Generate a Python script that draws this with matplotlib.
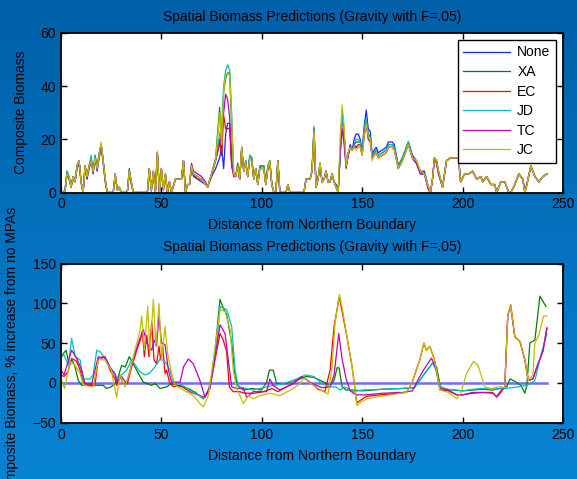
import numpy as np
import matplotlib
matplotlib.use("Agg")
import matplotlib.pyplot as plt

plt.rcParams["font.family"] = ["Liberation Sans", "DejaVu Sans"]
plt.rcParams["font.size"] = 10

names = ["None", "XA", "EC", "JD", "TC", "JC"]
colors = ["#2020ff", "#008000", "#ff0000", "#00bfbf", "#bf00bf", "#bfbf00"]

# distance from northern boundary (top panel samples)
dist = [1, 2, 3, 4, 5, 6, 7, 8, 9, 10,
        11, 12, 13, 14, 15, 16, 17, 18, 19, 20,
        21, 22, 23, 26, 27, 28, 29, 30, 33, 34,
        35, 36, 43, 44, 45, 46, 47, 48, 49, 50,
        51, 52, 53, 54, 55, 57, 58, 60, 61, 62,
        63, 64, 65, 66, 68, 70, 72, 73, 75, 77,
        79, 80, 81, 82, 83, 84, 85, 86, 87, 88,
        89, 90, 91, 92, 93, 94, 95, 96, 97, 98,
        99, 100, 101, 102, 103, 104, 105, 106, 107, 108,
        109, 112, 113, 114, 121, 122, 124, 125, 126, 127,
        128, 129, 130, 131, 132, 133, 134, 135, 136, 137,
        138, 139, 140, 141, 142, 143, 144, 145, 146, 147,
        148, 149, 150, 151, 152, 153, 154, 155, 156, 157,
        158, 160, 162, 163, 165, 166, 168, 170, 173, 175,
        177, 179, 181, 183, 184, 185, 186, 187, 188, 190,
        191, 192, 194, 198, 199, 201, 203, 205, 207, 209,
        210, 212, 214, 216, 217, 219, 221, 223, 224, 226,
        228, 230, 231, 232, 234, 236, 238, 240, 242]

bio_none = [0, 0.5, 7, 5, 2, 5, 4, 9, 11, 4,
            0, 9, 5, 9, 12, 7, 13, 8, 13, 17,
            11, 4, 0, 0, 6, 1, 2, 0, 0, 7,
            3, 0, 0, 8, 1, 7, 0, 14, 0, 8,
            1, 6, 0, 4, 0, 5, 5, 5, 12, 0,
            3, 3, 9, 6, 5, 4, 3, 2, 6, 9,
            13, 17, 9, 22, 26, 26, 12, 7, 6, 10,
            5, 17, 8, 11, 6, 13, 13, 5, 9, 3,
            9, 10, 10, 3, 9, 12, 3, 0, 0, 12,
            0, 0, 3, 0, 0, 5, 5, 8, 24, 2,
            5, 11, 4, 5, 8, 4, 4, 7, 4, 3,
            0, 14, 30, 22, 10, 14, 18, 16, 20, 22,
            22, 20, 16, 25, 31, 24, 23, 14, 16, 17,
            15, 16, 17, 19, 19, 18, 10, 13, 19, 14,
            12, 8, 8, 2, 0, 5, 13, 12, 8, 2,
            7, 12, 13, 13, 4, 7, 7, 8, 5, 6,
            4, 6, 3, 3, 0, 4, 4, 0, 0, 3,
            7, 5, 0, 3, 10, 6, 4, 6, 7]

bio_xa = [0, 1, 8, 6, 2, 6, 5, 10, 12, 4,
          0, 10, 6, 10, 13, 8, 14, 9, 15, 18,
          12, 5, 0, 0, 7, 1, 2, 0, 0, 9,
          4, 0, 0, 9, 1, 8, 0, 15, 0, 9,
          1, 7, 0, 4, 0, 5, 5, 5, 12, 0,
          3, 3, 10, 7, 6, 5, 3, 2, 7, 13,
          32, 14, 38, 43, 45, 45, 25, 7, 6, 11,
          5, 17, 8, 12, 6, 14, 13, 5, 9, 3,
          10, 10, 10, 3, 10, 12, 3, 0, 0, 12,
          0, 0, 3, 0, 0, 5, 5, 8, 24, 2,
          5, 11, 4, 5, 8, 4, 4, 7, 4, 2,
          0, 13, 31, 22, 10, 15, 17, 16, 18, 19,
          19, 19, 15, 23, 28, 22, 21, 13, 15, 16,
          14, 15, 16, 18, 18, 17, 10, 13, 19, 13,
          11, 8, 7, 2, 0, 5, 13, 12, 8, 2,
          7, 12, 13, 13, 4, 7, 7, 8, 5, 6,
          4, 6, 3, 3, 0, 4, 4, 0, 0, 3,
          7, 5, 0, 3, 10, 6, 4, 6, 7]

bio_ec = [0, 0.5, 7, 6, 2, 6, 4, 10, 12, 4,
          0, 10, 6, 10, 12, 8, 13, 9, 14, 18,
          12, 5, 0, 0, 7, 1, 2, 0, 0, 8,
          4, 0, 0, 9, 1, 8, 0, 15, 0, 9,
          1, 7, 0, 4, 0, 5, 5, 5, 12, 0,
          3, 3, 10, 7, 5, 5, 3, 2, 7, 12,
          20, 14, 29, 24, 24, 24, 10, 6, 6, 10,
          5, 17, 8, 11, 6, 13, 12, 5, 9, 3,
          9, 9, 9, 3, 9, 11, 3, 0, 0, 12,
          0, 0, 3, 0, 0, 5, 5, 8, 22, 2,
          5, 11, 4, 5, 8, 4, 4, 7, 4, 2,
          0, 14, 30, 22, 10, 14, 17, 16, 18, 17,
          18, 18, 15, 22, 27, 21, 20, 13, 14, 15,
          13, 14, 15, 17, 17, 16, 9, 12, 18, 13,
          11, 7, 7, 1, 0, 5, 13, 11, 7, 2,
          7, 12, 13, 13, 4, 7, 7, 8, 5, 6,
          4, 6, 3, 3, 0, 4, 4, 0, 0, 3,
          7, 5, 0, 3, 10, 6, 4, 6, 7]

bio_jd = [0, 1, 8, 6, 2, 6, 5, 10, 12, 4,
          0, 10, 6, 10, 14, 8, 14, 9, 14, 18,
          12, 5, 0, 0, 7, 1, 2, 0, 0, 8,
          4, 0, 0, 9, 0, 8, 0, 15, 0, 8,
          1, 7, 0, 4, 0, 5, 5, 5, 12, 0,
          3, 3, 10, 7, 6, 5, 3, 2, 7, 12,
          22, 25, 40, 46, 48, 46, 30, 7, 6, 10,
          5, 17, 8, 12, 6, 14, 13, 5, 9, 3,
          10, 10, 10, 3, 10, 12, 3, 0, 0, 12,
          0, 0, 3, 0, 0, 5, 5, 8, 25, 2,
          5, 11, 4, 5, 8, 4, 4, 7, 4, 2,
          0, 13, 30, 22, 10, 14, 17, 16, 18, 20,
          20, 19, 15, 24, 28, 22, 21, 13, 15, 16,
          14, 15, 16, 18, 18, 17, 10, 13, 19, 13,
          11, 7, 7, 2, 0, 5, 13, 12, 8, 2,
          7, 12, 13, 13, 4, 7, 7, 8, 5, 6,
          4, 6, 3, 3, 0, 4, 4, 0, 0, 3,
          7, 5, 0, 3, 10, 6, 4, 6, 7]

bio_tc = [0, 0.5, 7, 6, 2, 6, 4, 10, 12, 4,
          0, 10, 6, 10, 12, 8, 13, 9, 14, 18,
          12, 5, 0, 0, 7, 1, 2, 0, 0, 8,
          4, 0, 0, 9, 1, 8, 0, 15, 0, 9,
          1, 7, 0, 4, 0, 5, 5, 5, 12, 0,
          3, 3, 11, 8, 7, 6, 4, 2, 7, 12,
          18, 22, 30, 37, 35, 28, 10, 7, 6, 10,
          5, 16, 8, 11, 6, 13, 12, 5, 9, 3,
          9, 9, 9, 3, 9, 11, 3, 0, 0, 12,
          0, 0, 3, 0, 0, 5, 5, 8, 23, 2,
          5, 10, 4, 5, 8, 4, 4, 7, 4, 2,
          0, 15, 24, 18, 9, 14, 17, 16, 17, 17,
          17, 17, 14, 21, 26, 20, 19, 13, 14, 15,
          13, 14, 15, 17, 17, 16, 9, 12, 18, 13,
          11, 7, 7, 1, 0, 5, 13, 11, 7, 2,
          7, 12, 13, 13, 4, 7, 7, 8, 5, 6,
          4, 6, 3, 3, 0, 4, 4, 0, 0, 3,
          7, 5, 0, 3, 10, 6, 4, 6, 7]

bio_jc = [0, 0.5, 7, 6, 2, 6, 4, 10, 12, 4,
          0, 10, 6, 10, 12, 8, 13, 9, 14, 19,
          12, 5, 0, 0, 7, 1, 2, 0, 0, 8,
          4, 0, 0, 9, 1, 8, 0, 15.5, 0, 9,
          1, 7, 0, 4, 0, 5, 5, 5, 12, 0,
          3, 3, 10, 7, 6, 5, 3, 2, 7, 12,
          30, 18, 38, 44, 45, 44, 28, 7, 6, 10,
          5, 17, 8, 11, 6, 13, 12, 5, 9, 3,
          9, 9, 9, 3, 9, 12, 3, 0, 0, 12,
          0, 0, 3, 0, 0, 5, 5, 8, 23, 2,
          5, 11, 4, 5, 8, 4, 4, 7, 4, 2,
          0, 20, 33, 25, 10, 15, 17, 16, 17, 16,
          17, 17, 14, 21, 26, 21, 20, 12, 14, 15,
          13, 14, 15, 17, 17, 16, 9, 12, 18, 13,
          12, 8, 7, 2, 0, 5, 13, 12, 8, 2,
          7, 12, 13, 13, 4, 7, 7, 8, 5, 6,
          4, 6, 3, 3, 0, 4, 4, 0, 0, 3,
          7, 5, 0, 3, 10, 6, 4, 6, 7]

# % increase from no MPAs, (distance, percent) per scenario
pct_none = [(1, 0), (242, 0)]

pct_xa = [(0, 33), (2.5, 41), (4, 24), (5.5, 29), (7, 20), (8.6, 3), (10.3, -3),
          (21, -3), (22.7, -7), (25, -5), (27.7, 1), (30.2, 22), (32, 20),
          (34, 33), (36, 24), (38.5, 12), (41, 1), (43, -1), (45, -3), (47, -1),
          (49.3, -7), (52.6, -5), (55, -1), (59, -4), (63.4, -7), (67, -12),
          (70.9, -20), (73, -13), (75, 8), (76.7, 41), (79.2, 105), (80.8, 94),
          (82.5, 86), (85, 50), (86.7, 8), (88, -3), (90.8, -9), (95, -7),
          (99.9, -9), (102.4, 1), (103.8, 16), (105.7, 16), (107.4, -1),
          (112, -1), (115.7, 3), (119, 5), (122, 8), (126, 7), (130, 2),
          (134, -3), (136, 3), (137.5, 19), (138.5, 19), (140, -5), (142, -9),
          (146, -9), (150, -10), (160, -8), (170, -7), (176, -6), (180, 8),
          (183, 18), (185, 25), (187, 20), (189, -5), (192, -8), (196, -9),
          (200, -10), (205, -9), (210, -8), (215, -9), (220, -6), (222, -5),
          (223.6, 5), (226, 2), (229, -3), (231, -13), (232, -3), (233.5, 50),
          (236, 54), (238.5, 109), (241.5, 96)]

pct_ec = [(0, 10), (1.5, 8), (3.5, 14), (5.3, 31), (7.8, 27), (9.5, 16),
          (11.1, 1), (14.4, -3), (17, -1), (18.6, 31), (21, 33), (22.7, 27),
          (24.4, 16), (26.9, 5), (27.7, -3), (29.4, 10), (31, -1), (33, -1),
          (35.2, 20), (37.7, 41), (39.3, 52), (40.5, 65), (41.5, 33), (42.7, 60),
          (43.8, 33), (45.2, 77), (46.3, 29), (47.6, 24), (48.8, 46), (49.6, 29),
          (50.6, 46), (51.8, 12), (52.6, 16), (54, 1), (56, -5), (59.3, -3),
          (64, -11), (69, -16), (71.7, -18), (74.2, -7), (76.7, 29), (79.2, 62),
          (80.8, 54), (82.5, 39), (83.8, -5), (85.8, -11), (89, -11),
          (91.6, -13), (96, -13), (101, -11), (105, -7), (108, -11), (115, -1),
          (120, 8), (125, -1), (128, -8), (131.4, -11), (134, 16), (136, 71),
          (138.6, 108), (140, 90), (143.1, 48), (145, 20), (147.3, -25),
          (152, -17), (158.8, -15), (172, -12), (174.6, -1), (178.7, 29),
          (180.7, 50), (182, 41), (183.7, 46), (186, 29), (188.7, -9), (193, -10),
          (197, -15), (200, -15), (205, -13), (210, -12), (215, -12), (217, -18),
          (219, -12), (221, -5), (222.5, 85), (224, 98), (226, 58), (228.6, 52),
          (231, 29), (232.7, 3), (235, 5), (237, 20), (240, 40), (242, 69)]

pct_jd = [(0, 33), (1.5, 35), (3.7, 22), (5.3, 56), (7, 33), (9.5, 29), (11, 5),
          (14.4, 5), (16, 10), (17.8, 41), (19.5, 39), (21.9, 31), (24, 20),
          (26.9, 12), (28, 5), (30, 10), (32.7, 16), (35.2, 29), (39.3, 14),
          (41.8, 10), (44, 12), (46.8, 20), (49.3, 30), (51.8, 27), (54.3, 16),
          (56, 1), (59.3, -1), (64, -9), (69, -16), (70.9, -20), (74.2, -5),
          (77.5, 46), (79.2, 96), (82.5, 92), (85, 71), (86.7, 16), (88.3, -5),
          (92.5, -7), (95.8, -9), (99, -7), (102.4, -5), (106, -3), (109, -2),
          (115.7, 3), (119, 7), (122, 10), (126, 8), (130, -1), (134, -5),
          (137, -5), (139, -9), (141, -5), (143, -7), (145.6, -11), (150, -9),
          (160, -8), (170, -7), (176, -6), (180, 8), (183, 18), (185, 25),
          (187, 15), (189, -5), (192, -8), (196, -9), (200, -10), (205, -8),
          (210, -7), (215, -8), (220, -7), (225, -6), (230, -4), (233, -2),
          (236, 3), (239, 35), (242, 62)]

pct_tc = [(0, 16), (1.5, 10), (5.3, 41), (7.8, 31), (10.3, 16), (11.9, -1),
          (15.3, -1), (18.6, 33), (20.2, 31), (21.9, 33), (24.4, 20), (26.9, 10),
          (28, 1), (30.2, 8), (32.7, -1), (35.2, 24), (38.5, 50), (41, 67),
          (42.7, 50), (45.2, 41), (46.3, 54), (47.6, 46), (48.8, 84), (50.1, 50),
          (51.8, 48), (53.5, 16), (55.1, 1), (59.3, 1), (61, 20), (63.4, 30),
          (65.9, 24), (69.2, 3), (71.7, -18), (74.2, -5), (76.7, 33), (79.2, 73),
          (81.7, 62), (83.3, 29), (85, -5), (87.5, -7), (90.8, -7), (92.5, -18),
          (95.8, -11), (102.4, -11), (104, 5), (105.7, -3), (109, -9),
          (115.7, -1), (120, 8), (125, -1), (130, -6), (134, -5), (136, 10),
          (138.3, 62), (140, 30), (142, 5), (144, -10), (147, -15), (152, -15),
          (160, -13), (170, -12), (175, -10), (178, 5), (180.5, 16), (184.5, 31),
          (186.5, 20), (188.7, -7), (193, -9), (197, -15), (200, -15), (205, -12),
          (210, -12), (215, -13), (217, -17), (219, -10), (221, -5), (222.5, 85),
          (224, 95), (226, 58), (228.6, 52), (231, 29), (232.7, 3), (235, 5),
          (237, 20), (240, 40), (242, 69)]

pct_jc = [(0, 5), (1.8, -7), (4.5, 27), (7, 22), (9.5, 12), (11.1, -3), (16, -5),
          (18.6, 29), (21.9, 29), (25, 16), (27.7, -18), (29.4, 10), (31.8, -5),
          (34.3, 14), (36.8, 41), (39.3, 65), (40.2, 84), (41.5, 41), (43.2, 96),
          (44.3, 37), (46, 105), (47.3, 46), (48.8, 100), (50.1, 29), (51.8, 71),
          (53.1, 37), (55.1, 12), (56.8, -3), (61, -9), (65.9, -16), (69.2, -26),
          (70.9, -30), (73.4, -16), (75.9, 29), (79.2, 92), (81.7, 90),
          (84.2, 67), (85.8, 16), (87.5, -7), (90.8, -26), (93.3, -16),
          (95.8, -20), (99, -16), (104, -13), (109, -16), (115.7, -7), (119, -1),
          (121, 6), (125, -2), (130, -10), (133, -14), (135, 20), (136.5, 75),
          (138.6, 111), (140, 95), (143.1, 48), (145, 20), (147.3, -28),
          (152, -20), (158.8, -17), (172, -12), (174.6, -1), (178.7, 29),
          (180.7, 50), (182, 41), (183.7, 46), (186, 29), (188.7, -9), (193, -12),
          (197.1, -20), (199, -13), (202, 12), (205.4, 27), (207.7, 22), (211, -5),
          (214, -7), (218, -5), (221, -6), (222.5, 85), (224, 97), (226, 58),
          (228.6, 52), (231, 29), (232.7, 3), (235, 10), (236, 50), (238, 60),
          (240.3, 84), (242, 84)]

bio_series = [bio_none, bio_xa, bio_ec, bio_jd, bio_tc, bio_jc]
pct_series = [pct_none, pct_xa, pct_ec, pct_jd, pct_tc, pct_jc]

title = "Spatial Biomass Predictions (Gravity with F=.05)"
xlab = "Distance from Northern Boundary"

W, H = 577, 479
fig = plt.figure(figsize=(W / 100, H / 100), dpi=100)

# slide background, dark blue at top fading lighter downwards
bg = fig.add_axes([0, 0, 1, 1], zorder=-10)
top_c = np.array([0, 96, 168]) / 255
bot_c = np.array([8, 132, 212]) / 255
t = np.linspace(0, 1, 256)[:, None, None]
bg.imshow(top_c * (1 - t) + bot_c * t, aspect="auto", extent=[0, 1, 0, 1])
bg.set_axis_off()

ax1 = fig.add_axes([61 / W, 1 - 192.5 / H, 502 / W, 159.5 / H])
ax2 = fig.add_axes([61 / W, 1 - 422.7 / H, 502 / W, 159.2 / H])

for name, col, ys in zip(names, colors, bio_series):
    ax1.plot(dist, ys, color=col, lw=0.9, label=name)

for name, col, pairs in zip(names, colors, pct_series):
    xs, ys = zip(*pairs)
    if name == "None":
        ax2.plot(xs, ys, color="#6f6fff", lw=1.8)
    else:
        ax2.plot(xs, ys, color=col, lw=0.9)

for ax in (ax1, ax2):
    ax.set_facecolor("white")
    ax.set_xlim(0, 250)
    ax.set_xticks(range(0, 251, 50))
    ax.tick_params(direction="in", top=True, right=True, length=4, width=1,
                   labelsize=10, colors="black")
    for sp in ax.spines.values():
        sp.set_linewidth(1.3)
    ax.set_title(title, fontsize=10, pad=9)
    ax.set_xlabel(xlab, fontsize=10, labelpad=5)

ax1.set_ylim(0, 60)
ax1.set_yticks([0, 20, 40, 60])
ax1.set_ylabel("Composite Biomass", fontsize=10)
ax1.yaxis.set_label_coords(-0.066, 0.5)

ax2.set_ylim(-50, 150)
ax2.set_yticks([-50, 0, 50, 100, 150])
ax2.set_ylabel("Composite Biomass, % increase from no MPAs", fontsize=10)
ax2.yaxis.set_label_coords(-0.084, 0.444)

leg = ax1.legend(loc="upper right", fancybox=False, framealpha=1,
                 edgecolor="black", handlelength=3.4, handletextpad=0.5,
                 labelspacing=0.4, borderaxespad=0.5, fontsize=10)
leg.get_frame().set_linewidth(1.0)

fig.savefig("out.png", dpi=100)
